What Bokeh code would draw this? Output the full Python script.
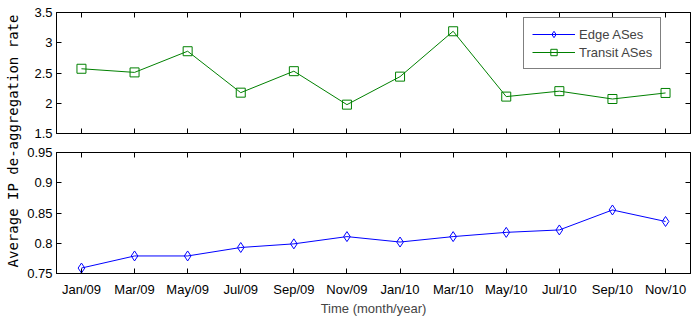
import numpy as np
from math import pi
from bokeh.plotting import figure
from bokeh.layouts import row, column
from bokeh.models import (Range1d, LinearAxis, FixedTicker, Legend, LegendItem,
                          Label, CustomJSTickFormatter)
from bokeh.embed import file_html
from bokeh.resources import INLINE

months = ["Jan/09", "Mar/09", "May/09", "Jul/09", "Sep/09", "Nov/09",
          "Jan/10", "Mar/10", "May/10", "Jul/10", "Sep/10", "Nov/10"]
transit = [2.57, 2.51, 2.86, 2.175, 2.53, 1.977, 2.44, 3.19, 2.11, 2.20, 2.07, 2.17]
edge = [0.759, 0.779, 0.779, 0.793, 0.799, 0.811, 0.802, 0.811, 0.818, 0.822, 0.855, 0.836]
top_ticks = [1.5, 2, 2.5, 3, 3.5]
bottom_ticks = [0.75, 0.8, 0.85, 0.9, 0.95]
y_label = "Average IP de-aggregation rate"
x_label = "Time (month/year)"

x = list(range(len(months)))
FONT = "Liberation Sans"
GREEN = "#008000"
BLUE = "#0000FF"

fmt_code = "return String(Math.round(tick*100)/100);"


def style_axis(ax, labels=True):
    ax.major_tick_in = 5
    ax.major_tick_out = 0
    ax.minor_tick_line_color = None
    ax.axis_line_color = "black"
    ax.major_tick_line_color = "black"
    ax.major_label_text_font = FONT
    ax.major_label_text_font_size = "13px"
    ax.major_label_text_color = "black"
    if not labels:
        ax.major_label_text_font_size = "1px"
        ax.major_label_text_color = None
        ax.major_label_standoff = 0


def make_panel(ylo, yhi, yticks, top_border, show_x_labels):
    p = figure(frame_width=634, frame_height=121, output_backend="svg",
               toolbar_location=None,
               x_range=Range1d(-0.47, len(months) - 1 + 0.47),
               y_range=Range1d(ylo, yhi),
               min_border_left=32, min_border_right=2,
               min_border_top=top_border, min_border_bottom=9)
    p.grid.visible = False
    p.outline_line_color = "black"
    p.background_fill_color = "white"
    xt = FixedTicker(ticks=x)
    yt = FixedTicker(ticks=yticks)
    # bottom
    p.xaxis.ticker = xt
    if show_x_labels:
        p.xaxis.major_label_overrides = {i: m for i, m in enumerate(months)}
        style_axis(p.xaxis[0])
        p.xaxis.major_label_standoff = 8
        p.xaxis.axis_label = x_label
        p.xaxis.axis_label_text_font = FONT
        p.xaxis.axis_label_text_font_size = "13px"
        p.xaxis.axis_label_text_font_style = "normal"
        p.xaxis.axis_label_standoff = 1
    else:
        style_axis(p.xaxis[0], labels=False)
    # left
    p.yaxis.ticker = yt
    p.yaxis.formatter = CustomJSTickFormatter(code=fmt_code)
    style_axis(p.yaxis[0])
    p.yaxis.major_label_standoff = 4
    # top and right (ticks only)
    ta = LinearAxis(ticker=xt)
    style_axis(ta, labels=False)
    p.add_layout(ta, "above")
    ra = LinearAxis(ticker=yt)
    style_axis(ra, labels=False)
    p.add_layout(ra, "right")
    return p


p1 = make_panel(1.5, 3.5, top_ticks, 12, False)
p2 = make_panel(0.75, 0.95, bottom_ticks, 10, True)
p2.min_border_bottom = 47

# transit series (top)
tl = p1.line(x, transit, line_color=GREEN, line_width=1)
ts = p1.scatter(x, transit, marker="square", size=9, fill_color=None,
                line_color=GREEN, line_width=1)
# legend proxies for the edge series (values lie below the top panel's range)
el = p1.line(x, edge, line_color=BLUE, line_width=1)
es = p1.scatter(x, edge, marker="diamond", size=10, fill_color=None,
                line_color=BLUE, line_width=1)

# edge series (bottom)
p2.line(x, edge, line_color=BLUE, line_width=1)
p2.scatter(x, edge, marker="diamond", size=10, fill_color=None,
           line_color=BLUE, line_width=1)

legend = Legend(items=[LegendItem(label="Edge ASes", renderers=[el, es]),
                       LegendItem(label="Transit ASes", renderers=[tl, ts])],
                location=(467, 64))
legend.border_line_color = "black"
legend.border_line_width = 1
legend.background_fill_color = "white"
legend.background_fill_alpha = 1
legend.label_text_font = FONT
legend.label_text_font_size = "13px"
legend.glyph_width = 43
legend.glyph_height = 16
legend.label_height = 16
legend.label_standoff = 4
legend.padding = 8
legend.spacing = 2
legend.margin = 0
p1.add_layout(legend, "center")

# shared y label
p0 = figure(frame_width=24, frame_height=320, output_backend="svg",
            toolbar_location=None, x_axis_location=None, y_axis_location=None,
            min_border=0, x_range=Range1d(0, 1), y_range=Range1d(0, 1))
p0.grid.visible = False
p0.outline_line_color = None
p0.add_layout(Label(x=12.5, y=179.5, x_units="screen", y_units="screen",
                    text=y_label, angle=pi / 2, text_align="center",
                    text_baseline="middle", text_font="DejaVu Sans Mono",
                    text_font_size="14px", text_color="black"))

layout = row(p0, column(p1, p2))
open("out.html", "w").write(file_html(layout, INLINE))
